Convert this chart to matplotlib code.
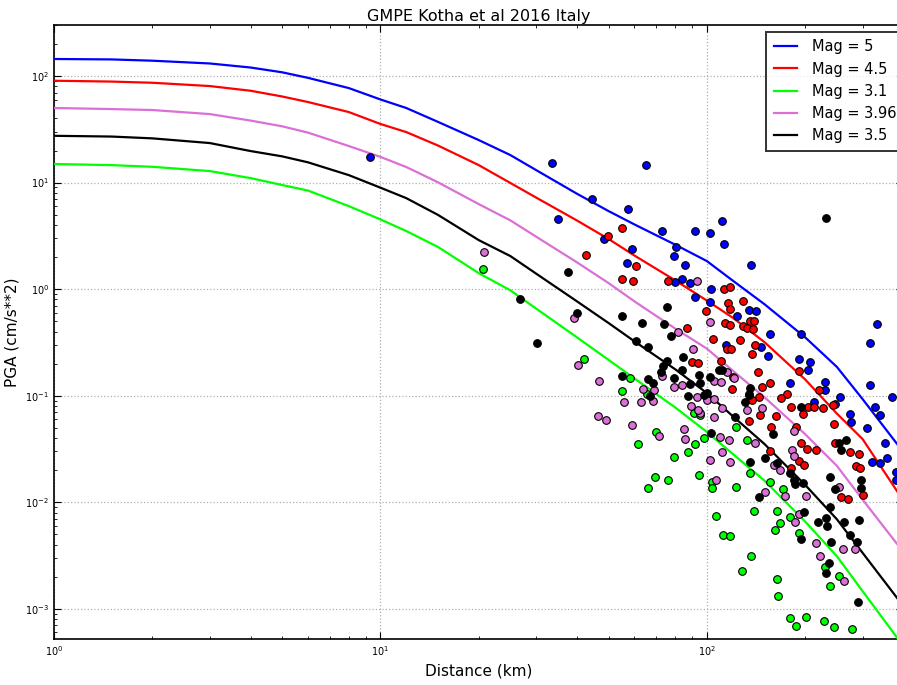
import matplotlib
matplotlib.use("Agg")
import matplotlib.pyplot as plt
import numpy as np

# GMPE curves: log10 distance (km) and log10 PGA (cm/s**2)
# distances: 1, 1.5, 2, 3, 4, 5, 6, 8, 10, 12, 15, 20, 25, 30, 40, 50, 60, 80, 100, 120, 150, 200, 250, 300, 400
curve_log_r = [0.0, 0.176, 0.301, 0.477, 0.602, 0.699, 0.778, 0.903, 1.0, 1.079, 1.176, 1.301, 1.398,
               1.477, 1.602, 1.699, 1.778, 1.903, 2.0, 2.079, 2.176, 2.301, 2.398, 2.477, 2.602]
curve_mag5 = [2.160, 2.156, 2.144, 2.118, 2.080, 2.035, 1.983, 1.887, 1.780, 1.700, 1.570, 1.399, 1.258,
              1.117, 0.895, 0.732, 0.607, 0.417, 0.263, 0.080, -0.141, -0.453, -0.730, -1.033, -1.531]
curve_mag45 = [1.956, 1.948, 1.937, 1.906, 1.862, 1.808, 1.756, 1.662, 1.550, 1.474, 1.348, 1.164, 0.996,
               0.859, 0.644, 0.470, 0.315, 0.082, -0.108, -0.268, -0.497, -0.848, -1.168, -1.408, -1.987]
curve_mag31 = [1.174, 1.164, 1.148, 1.108, 1.042, 0.977, 0.925, 0.779, 0.654, 0.545, 0.396, 0.150, -0.012,
               -0.183, -0.453, -0.665, -0.839, -1.111, -1.341, -1.547, -1.797, -2.182, -2.507, -2.836, -3.352]
curve_mag396 = [1.700, 1.690, 1.681, 1.643, 1.582, 1.528, 1.469, 1.343, 1.241, 1.146, 1.003, 0.798, 0.645,
                0.492, 0.251, 0.056, -0.115, -0.371, -0.559, -0.765, -1.014, -1.362, -1.659, -1.976, -2.469]
curve_mag35 = [1.439, 1.432, 1.415, 1.371, 1.296, 1.246, 1.190, 1.070, 0.952, 0.854, 0.697, 0.460, 0.310,
               0.145, -0.115, -0.319, -0.490, -0.753, -0.976, -1.192, -1.453, -1.838, -2.160, -2.476, -2.977]

# observed records (log10 distance, log10 PGA)
blue_log_r = [0.968, 1.525, 1.813, 1.648, 1.758, 1.544, 1.685, 1.862, 1.963, 1.905, 1.770, 1.899, 1.933, 1.755,
              1.924, 1.902, 1.948, 1.963, 2.046, 2.009, 2.052, 2.135, 2.012, 2.009, 2.092, 2.129, 2.150, 2.193,
              2.288, 2.521, 2.499, 2.166, 2.187, 2.058, 2.282, 2.316, 2.310, 2.362, 2.362, 2.254, 2.499, 2.408,
              2.567, 2.392, 2.438, 2.441, 2.515, 2.530, 2.490, 2.545, 2.551, 2.506, 2.530, 2.579, 2.328, 2.579]
blue_log_pga = [1.239, 1.183, 1.164, 0.845, 0.751, 0.657, 0.469, 0.545, 0.545, 0.394, 0.376, 0.310, 0.225, 0.244,
                0.094, 0.066, 0.056, -0.075, 0.638, 0.526, 0.423, 0.225, 0.000, -0.122, -0.254, -0.197, -0.207,
                -0.423, -0.423, -0.329, -0.507, -0.545, -0.629, -0.526, -0.657, -0.685, -0.761, -0.873, -0.948,
                -0.883, -0.901, -1.014, -1.014, -1.080, -1.174, -1.249, -1.108, -1.183, -1.305, -1.446, -1.587,
                -1.624, -1.634, -1.718, -1.061, -1.793]

red_log_r = [1.697, 1.740, 1.630, 1.783, 1.740, 1.773, 1.881, 1.939, 1.954, 1.973, 2.052, 2.071, 2.064, 2.071,
             2.110, 1.997, 2.055, 2.071, 2.110, 2.123, 2.132, 2.144, 2.141, 2.019, 2.101, 2.147, 2.061, 2.074,
             2.138, 2.043, 2.156, 2.193, 2.169, 2.282, 2.245, 2.227, 2.343, 2.080, 2.077, 2.129, 2.159, 2.138,
             2.162, 2.211, 2.257, 2.294, 2.310, 2.328, 2.355, 2.386, 2.129, 2.196, 2.273, 2.288, 2.306, 2.334,
             2.193, 2.282, 2.297, 2.257, 2.389, 2.392, 2.438, 2.466, 2.457, 2.469, 2.411, 2.432, 2.478]
red_log_pga = [0.498, 0.573, 0.319, 0.216, 0.094, 0.075, 0.075, -0.366, -0.685, -0.695, 0.000, 0.019, -0.131,
               -0.188, -0.113, -0.207, -0.319, -0.338, -0.347, -0.366, -0.300, -0.300, -0.376, -0.469, -0.479,
               -0.526, -0.563, -0.563, -0.610, -0.676, -0.779, -0.883, -0.920, -0.770, -0.986, -1.023, -0.948,
               -0.826, -0.939, -0.986, -1.014, -1.042, -1.183, -1.192, -1.108, -1.174, -1.108, -1.108, -1.117,
               -1.089, -1.239, -1.296, -1.296, -1.446, -1.502, -1.512, -1.521, -1.615, -1.652, -1.681, -1.268,
               -1.446, -1.531, -1.549, -1.662, -1.681, -1.953, -1.972, -1.934]

green_log_r = [1.314, 1.623, 1.764, 1.740, 1.816, 1.844, 1.789, 1.899, 1.942, 1.963, 1.841, 1.881, 1.819, 1.976,
               1.960, 1.979, 2.089, 1.991, 2.123, 2.015, 2.015, 2.089, 2.132, 2.193, 2.233, 2.144, 2.214, 2.254,
               2.028, 2.224, 2.208, 2.282, 2.049, 2.071, 2.135, 2.107, 2.214, 2.217, 2.362, 2.404, 2.377, 2.254,
               2.273, 2.303, 2.358, 2.389, 2.444]
green_log_pga = [0.188, -0.657, -0.836, -0.958, -0.986, -1.343, -1.455, -1.577, -1.531, -1.455, -1.765, -1.793,
                 -1.869, -1.746, -1.164, -1.183, -1.296, -1.399, -1.418, -1.812, -1.869, -1.859, -1.728, -1.812,
                 -1.878, -2.085, -2.085, -2.141, -2.131, -2.197, -2.263, -2.291, -2.310, -2.319, -2.507, -2.648,
                 -2.723, -2.883, -2.610, -2.695, -2.789, -3.089, -3.164, -3.080, -3.117, -3.174, -3.192]

violet_log_r = [1.317, 1.969, 1.593, 1.911, 1.957, 1.605, 1.669, 1.862, 1.899, 1.924, 1.804, 1.838, 1.969, 2.009,
                2.022, 2.043, 2.083, 2.061, 2.000, 2.022, 2.046, 2.022, 1.979, 2.123, 2.169, 2.267, 2.040, 2.068,
                2.147, 2.046, 2.009, 2.071, 2.260, 2.267, 2.205, 2.224, 2.028, 2.178, 2.239, 2.303, 2.282, 2.270,
                2.334, 2.346, 2.417, 2.453, 2.420, 2.404, 1.666, 1.691, 1.746, 1.798, 1.835, 1.770, 1.853, 1.930,
                1.933, 1.951, 1.973]
violet_log_pga = [0.347, 0.075, -0.272, -0.404, -0.563, -0.714, -0.864, -0.817, -0.920, -0.901, -0.939, -0.948,
                  -1.014, -0.310, -0.864, -0.873, -0.836, -0.779, -1.042, -1.033, -1.117, -1.202, -1.164, -1.136,
                  -1.117, -1.333, -1.390, -1.418, -1.446, -1.531, -1.606, -1.624, -1.512, -1.568, -1.652, -1.700,
                  -1.793, -1.906, -1.944, -1.944, -2.113, -2.188, -2.385, -2.507, -2.441, -2.441, -2.742, -1.859,
                  -1.192, -1.230, -1.061, -1.061, -1.052, -1.277, -1.380, -1.315, -1.408, -1.099, -1.136]

black_log_r = [2.365, 1.427, 1.479, 1.574, 1.602, 1.740, 1.801, 1.868, 1.878, 1.890, 1.783, 1.819, 1.927, 1.878,
               1.865, 1.859, 1.924, 1.899, 1.976, 1.740, 1.948, 1.819, 1.835, 1.942, 2.036, 2.046, 2.009, 1.979,
               2.132, 1.991, 2.129, 1.825, 2.000, 2.086, 2.202, 2.178, 2.132, 2.214, 2.254, 2.267, 2.270, 2.294,
               2.159, 2.377, 2.392, 2.377, 2.297, 2.365, 2.340, 2.368, 2.420, 2.466, 2.438, 2.380, 2.459, 2.288,
               2.374, 2.365, 2.463, 2.472, 2.472, 2.404, 2.426, 2.411, 2.288, 2.012, 2.116]
black_log_pga = [0.667, -0.094, -0.507, 0.160, -0.225, -0.254, -0.319, -0.329, -0.169, -0.441, -0.488, -0.545,
                 -0.638, -0.676, -0.723, -0.779, -0.761, -0.836, -0.808, -0.817, -0.892, -0.845, -0.883, -1.005,
                 -0.761, -0.761, -0.826, -0.883, -0.930, -0.995, -0.995, -1.005, -0.976, -1.202, -1.362, -1.587,
                 -1.624, -1.634, -1.728, -1.793, -1.831, -1.822, -1.953, -1.765, -1.878, -2.047, -2.094, -2.150,
                 -2.188, -2.225, -2.188, -2.169, -2.310, -2.376, -2.376, -2.347, -2.573, -2.667, -2.939, -1.793,
                 -1.869, -1.446, -1.418, -1.512, -1.108, -1.352, -1.061]

MAG_LABELS = ["Mag = 5", "Mag = 4.5", "Mag = 3.1", "Mag = 3.96", "Mag = 3.5"]
COLORS = ["#0000ff", "#ff0000", "#00ff00", "orchid", "black"]


def main():
    fig = plt.figure(figsize=(8.97, 6.85), dpi=100)
    ax = fig.add_axes([0.0602, 0.0672, 0.947, 0.896])

    r = 10 ** np.array(curve_log_r)
    curves = [curve_mag5, curve_mag45, curve_mag31, curve_mag396, curve_mag35]
    for values, label, color in zip(curves, MAG_LABELS, COLORS):
        ax.plot(r, 10 ** np.array(values), color=color, linewidth=1.6, label=label, zorder=3)

    records = [
        (blue_log_r, blue_log_pga, COLORS[0]),
        (red_log_r, red_log_pga, COLORS[1]),
        (green_log_r, green_log_pga, COLORS[2]),
        (violet_log_r, violet_log_pga, COLORS[3]),
        (black_log_r, black_log_pga, COLORS[4]),
    ]
    for lr, lp, color in records:
        ax.plot(10 ** np.array(lr), 10 ** np.array(lp), "o", color=color,
                markeredgecolor="black", markeredgewidth=0.8, markersize=5.5, zorder=4)

    ax.set_xscale("log")
    ax.set_yscale("log")
    ax.set_xlim(1, 400)
    ax.set_ylim(5.2e-4, 300)

    ax.grid(which="major", color="#b0b0b0", linestyle=":", linewidth=0.9)
    ax.tick_params(which="both", direction="in", top=True, right=True, labelsize=7)
    ax.tick_params(which="major", length=5)
    ax.tick_params(which="minor", length=2.5)
    for spine in ax.spines.values():
        spine.set_linewidth(1.2)

    ax.set_title("GMPE Kotha et al 2016 Italy", fontsize=11.5, pad=3)
    ax.set_xlabel("Distance (km)", fontsize=11)
    ax.set_ylabel("PGA (cm/s**2)", fontsize=11)

    leg = ax.legend(loc="upper right", bbox_to_anchor=(1.0, 0.989), fontsize=10.5,
                    fancybox=False, borderaxespad=0.0, handlelength=1.6, handletextpad=1.0,
                    borderpad=0.5)
    leg.get_frame().set_edgecolor("black")
    leg.get_frame().set_linewidth(1.4)

    fig.savefig("out.png", dpi=100)


if __name__ == "__main__":
    main()
